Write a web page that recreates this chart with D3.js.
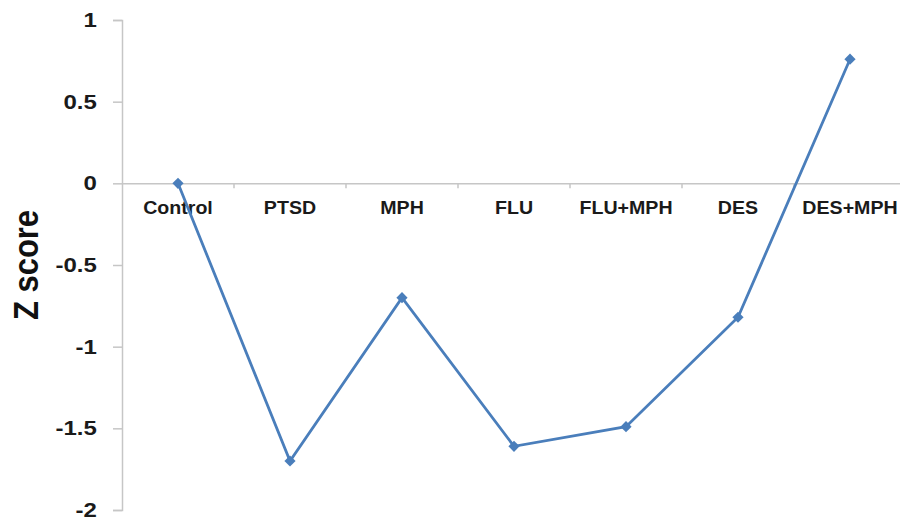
<!DOCTYPE html>
<html><head><meta charset="utf-8">
<script src="https://cdn.jsdelivr.net/npm/d3@7"></script>
<style>body{margin:0;background:#fff}svg{display:block}</style>
</head><body>
<script>
const categories = ["Control","PTSD","MPH","FLU","FLU+MPH","DES","DES+MPH"];
const zScores = [0, -1.70, -0.70, -1.61, -1.49, -0.82, 0.76];
const yTicks = [1, 0.5, 0, -0.5, -1, -1.5, -2];

const W = 900, H = 525;
const svg = d3.select("body").append("svg").attr("width", W).attr("height", H);
const x = d3.scaleBand().domain(categories).range([122, 906]);
const y = d3.scaleLinear().domain([-2, 1]).range([510, 20]);
const axisColor = "#c6c6c6";
const font = "'Liberation Sans', Arial, sans-serif";

// y axis
const ya = svg.append("g").attr("transform", "translate(122,0)")
  .call(d3.axisLeft(y).tickValues(yTicks).tickSize(9).tickPadding(12)
    .tickFormat(d => String(d)));
ya.select(".domain").attr("stroke", axisColor).attr("stroke-width", 1.5);
ya.selectAll(".tick line").attr("stroke", axisColor).attr("stroke-width", 1.5);
ya.selectAll(".tick text").attr("fill", "#1a1a1a").attr("font-family", font)
  .attr("font-weight", "bold").attr("font-size", 20)
  .attr("transform", "scale(1.2,1)");

// x axis at zero
const xa = svg.append("g").attr("transform", `translate(0,${y(0)})`)
  .call(d3.axisBottom(x).tickSize(0).tickPadding(18));
xa.select(".domain").attr("stroke", axisColor).attr("stroke-width", 1.5);
xa.selectAll(".tick text").attr("fill", "#1a1a1a").attr("font-family", font)
  .attr("font-weight", "bold").attr("font-size", 18.5)
  .attr("transform", "scale(1.06,1)");
// category boundary ticks
svg.append("g").selectAll("line").data(categories.slice(1)).join("line")
  .attr("x1", d => x(d)).attr("x2", d => x(d))
  .attr("y1", y(0)).attr("y2", y(0) + 5)
  .attr("stroke", axisColor).attr("stroke-width", 1.5);

// y title
svg.append("text").attr("transform", "translate(38,265) rotate(-90) scale(1,1.15)")
  .attr("text-anchor", "middle").attr("font-family", font)
  .attr("font-weight", "bold").attr("font-size", 31).attr("fill", "#111").text("Z score");

// line
const cx = d => x(d) + x.bandwidth() / 2;
const data = categories.map((c, i) => ({c, v: zScores[i]}));
svg.append("path").datum(data)
  .attr("d", d3.line().x(d => cx(d.c)).y(d => y(d.v)))
  .attr("fill", "none").attr("stroke", "#4a7ebb").attr("stroke-width", 2.8);
svg.append("g").selectAll("path").data(data).join("path")
  .attr("d", d3.symbol().type(d3.symbolDiamond2).size(80))
  .attr("transform", d => `translate(${cx(d.c)},${y(d.v)})`)
  .attr("fill", "#4a7ebb");
</script>
</body></html>
